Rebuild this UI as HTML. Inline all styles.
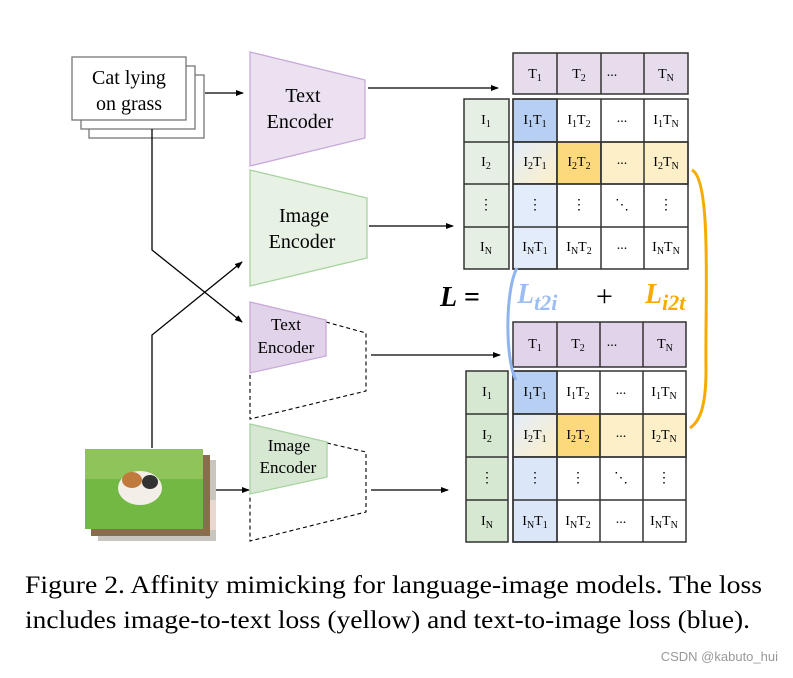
<!DOCTYPE html><html><head><style>body{margin:0;background:#fff}</style></head><body>
<svg width="793" height="673" xmlns="http://www.w3.org/2000/svg" font-family="Liberation Serif, serif">
<defs><marker id="a" markerWidth="8" markerHeight="8" refX="7" refY="4" orient="auto" markerUnits="userSpaceOnUse"><path d="M0,1 L8,4 L0,7z" fill="#000"/></marker>
<linearGradient id="g" x1="0" y1="0" x2="1" y2="1"><stop offset="0" stop-color="#e2ecfa"/><stop offset="1" stop-color="#fdf0c8"/></linearGradient></defs>
<rect x="89" y="75" width="115" height="63" fill="#fff" stroke="#777" stroke-width="1.3"/>
<rect x="81" y="66" width="114" height="63" fill="#fff" stroke="#777" stroke-width="1.3"/>
<rect x="72" y="57" width="114" height="63" fill="#fff" stroke="#777" stroke-width="1.3"/>
<text x="129" y="84" font-size="20" text-anchor="middle">Cat lying</text>
<text x="129" y="110" font-size="20" text-anchor="middle">on grass</text>
<g stroke="#000" stroke-width="1.3" fill="none" marker-end="url(#a)">
<line x1="205" y1="93" x2="243" y2="93"/>
<line x1="368" y1="88" x2="498" y2="88"/>
<line x1="369" y1="226" x2="453" y2="226"/>
<line x1="371" y1="355" x2="500" y2="355"/>
<line x1="371" y1="490" x2="448" y2="490"/>
<line x1="216" y1="490" x2="249" y2="490"/>
<polyline points="152,129 152,250 242,322"/>
<polyline points="152,448 152,335 242,262"/>
</g>
<polygon points="250,52 365,80 365,138 250,166" fill="#ebe1f1" stroke="#c9a9d9" stroke-width="1.3"/>
<text x="303" y="102" font-size="20" text-anchor="middle">Text</text>
<text x="300" y="128" font-size="20" text-anchor="middle">Encoder</text>
<polygon points="250,170 367,198 367,258 250,286" fill="#e7f1e4" stroke="#a9d3a1" stroke-width="1.3"/>
<text x="304" y="222" font-size="20" text-anchor="middle">Image</text>
<text x="302" y="248" font-size="20" text-anchor="middle">Encoder</text>
<g fill="none" stroke="#000" stroke-width="1.1" stroke-dasharray="4,3">
<polyline points="326,322 366,333 366,391 250,419 250,373"/>
<polyline points="327,443 366,452 366,512 250,541 250,494"/>
</g>
<polygon points="250,302 326,320 326,356 250,373" fill="#e0d3ea" stroke="#c9a9d9" stroke-width="1.3"/>
<text x="286" y="330" font-size="17" text-anchor="middle">Text</text>
<text x="286" y="353" font-size="17" text-anchor="middle">Encoder</text>
<polygon points="250,424 327,442 327,477 250,494" fill="#d6e8d2" stroke="#a9d3a1" stroke-width="1.3"/>
<text x="289" y="451" font-size="17" text-anchor="middle">Image</text>
<text x="288" y="473" font-size="17" text-anchor="middle">Encoder</text>
<rect x="98" y="460" width="118" height="81" fill="#c9c6c0"/>
<rect x="98" y="500" width="118" height="30" fill="#e8d8cf"/>
<rect x="91" y="455" width="119" height="81" fill="#8a6d4d"/>
<rect x="85" y="449" width="118" height="80" fill="#72b842"/>
<rect x="85" y="449" width="118" height="30" fill="#8ec45a"/>
<ellipse cx="140" cy="488" rx="22" ry="17" fill="#f3efe8"/>
<ellipse cx="132" cy="480" rx="10" ry="8" fill="#c07a3c"/>
<ellipse cx="150" cy="482" rx="8" ry="7" fill="#333"/>
<g stroke="#333" stroke-width="1.5">
<rect x="513" y="53" width="175" height="41" fill="#e6dcec"/>
<rect x="464" y="99" width="45" height="170" fill="#e6efe3"/>
<rect x="513" y="99" width="44" height="43" fill="#b6cff3"/>
<rect x="513" y="142" width="44" height="42" fill="url(#g)"/>
<rect x="513" y="184" width="44" height="85" fill="#e2ecfa"/>
<rect x="557" y="142" width="44" height="42" fill="#fcd97c"/>
<rect x="601" y="142" width="87" height="42" fill="#fdf0c8"/>
<rect x="513" y="99" width="175" height="170" fill="none"/>
<path d="M557,53V94M601,53V94M644,53V94M557,99V269M601,99V269M644,99V269M513,142H688M513,184H688M513,227H688M464,142H509M464,184H509M464,227H509" fill="none"/>
<rect x="513" y="322" width="173" height="45" fill="#e0d3ea"/>
<rect x="466" y="371" width="42" height="171" fill="#d6e7d2"/>
<rect x="513" y="371" width="44" height="43" fill="#b6cff3"/>
<rect x="513" y="414" width="44" height="43" fill="url(#g)"/>
<rect x="513" y="457" width="44" height="85" fill="#dbe7f9"/>
<rect x="557" y="414" width="43" height="43" fill="#fcd97c"/>
<rect x="600" y="414" width="86" height="43" fill="#fdf0c8"/>
<rect x="513" y="371" width="173" height="171" fill="none"/>
<path d="M557,322V367M600,322V367M643,322V367M557,371V542M600,371V542M643,371V542M513,414H686M513,457H686M513,500H686M466,414H508M466,457H508M466,500H508" fill="none"/>
</g>
<g font-size="14" text-anchor="middle">
<text x="535" y="78">T<tspan font-size="10" dy="3">1</tspan></text><text x="579" y="78">T<tspan font-size="10" dy="3">2</tspan></text><text x="612" y="76">...</text><text x="666" y="78">T<tspan font-size="10" dy="3">N</tspan></text>
<text x="486" y="124">I<tspan font-size="10" dy="3">1</tspan></text><text x="486" y="166">I<tspan font-size="10" dy="3">2</tspan></text><text x="486" y="209">⋮</text><text x="486" y="251">I<tspan font-size="10" dy="3">N</tspan></text>
<text x="535" y="124">I<tspan font-size="10" dy="3">1</tspan><tspan dy="-3">T</tspan><tspan font-size="10" dy="3">1</tspan></text>
<text x="579" y="124">I<tspan font-size="10" dy="3">1</tspan><tspan dy="-3">T</tspan><tspan font-size="10" dy="3">2</tspan></text>
<text x="622" y="122">...</text>
<text x="666" y="124">I<tspan font-size="10" dy="3">1</tspan><tspan dy="-3">T</tspan><tspan font-size="10" dy="3">N</tspan></text>
<text x="535" y="166">I<tspan font-size="10" dy="3">2</tspan><tspan dy="-3">T</tspan><tspan font-size="10" dy="3">1</tspan></text>
<text x="579" y="166">I<tspan font-size="10" dy="3">2</tspan><tspan dy="-3">T</tspan><tspan font-size="10" dy="3">2</tspan></text>
<text x="622" y="164">...</text>
<text x="666" y="166">I<tspan font-size="10" dy="3">2</tspan><tspan dy="-3">T</tspan><tspan font-size="10" dy="3">N</tspan></text>
<text x="535" y="209">⋮</text><text x="579" y="209">⋮</text><text x="622" y="209">⋱</text><text x="666" y="209">⋮</text>
<text x="535" y="251">I<tspan font-size="10" dy="3">N</tspan><tspan dy="-3">T</tspan><tspan font-size="10" dy="3">1</tspan></text>
<text x="579" y="251">I<tspan font-size="10" dy="3">N</tspan><tspan dy="-3">T</tspan><tspan font-size="10" dy="3">2</tspan></text>
<text x="622" y="249">...</text>
<text x="666" y="251">I<tspan font-size="10" dy="3">N</tspan><tspan dy="-3">T</tspan><tspan font-size="10" dy="3">N</tspan></text>
<text x="535" y="348">T<tspan font-size="10" dy="3">1</tspan></text><text x="578" y="348">T<tspan font-size="10" dy="3">2</tspan></text><text x="612" y="346">...</text><text x="665" y="348">T<tspan font-size="10" dy="3">N</tspan></text>
<text x="487" y="396">I<tspan font-size="10" dy="3">1</tspan></text><text x="487" y="439">I<tspan font-size="10" dy="3">2</tspan></text><text x="487" y="482">⋮</text><text x="487" y="525">I<tspan font-size="10" dy="3">N</tspan></text>
<text x="535" y="396">I<tspan font-size="10" dy="3">1</tspan><tspan dy="-3">T</tspan><tspan font-size="10" dy="3">1</tspan></text>
<text x="578" y="396">I<tspan font-size="10" dy="3">1</tspan><tspan dy="-3">T</tspan><tspan font-size="10" dy="3">2</tspan></text>
<text x="621" y="394">...</text>
<text x="664" y="396">I<tspan font-size="10" dy="3">1</tspan><tspan dy="-3">T</tspan><tspan font-size="10" dy="3">N</tspan></text>
<text x="535" y="439">I<tspan font-size="10" dy="3">2</tspan><tspan dy="-3">T</tspan><tspan font-size="10" dy="3">1</tspan></text>
<text x="578" y="439">I<tspan font-size="10" dy="3">2</tspan><tspan dy="-3">T</tspan><tspan font-size="10" dy="3">2</tspan></text>
<text x="621" y="437">...</text>
<text x="664" y="439">I<tspan font-size="10" dy="3">2</tspan><tspan dy="-3">T</tspan><tspan font-size="10" dy="3">N</tspan></text>
<text x="535" y="482">⋮</text><text x="578" y="482">⋮</text><text x="621" y="482">⋱</text><text x="664" y="482">⋮</text>
<text x="535" y="525">I<tspan font-size="10" dy="3">N</tspan><tspan dy="-3">T</tspan><tspan font-size="10" dy="3">1</tspan></text>
<text x="578" y="525">I<tspan font-size="10" dy="3">N</tspan><tspan dy="-3">T</tspan><tspan font-size="10" dy="3">2</tspan></text>
<text x="621" y="523">...</text>
<text x="664" y="525">I<tspan font-size="10" dy="3">N</tspan><tspan dy="-3">T</tspan><tspan font-size="10" dy="3">N</tspan></text>
</g>
<path d="M517,268 C505,290 505,360 516,380" fill="none" stroke="#8fb4f0" stroke-width="3"/>
<path d="M692,170 C712,180 705,300 706,370 C706,400 702,420 690,428" fill="none" stroke="#f7ab00" stroke-width="3"/>
<text x="440" y="306" font-size="28" font-weight="bold" font-style="italic">L</text>
<text x="464" y="306" font-size="28" font-weight="bold">=</text>
<text x="517" y="303" font-size="28" font-weight="bold" font-style="italic" fill="#9dbef2">L<tspan font-size="22" dy="7">t2i</tspan></text>
<text x="596" y="306" font-size="30">+</text>
<text x="645" y="303" font-size="28" font-weight="bold" font-style="italic" fill="#f7ab00">L<tspan font-size="22" dy="7">i2t</tspan></text>
<text x="25" y="593" font-size="25" textLength="737" lengthAdjust="spacingAndGlyphs">Figure 2. Affinity mimicking for language-image models. The loss</text>
<text x="25" y="628" font-size="25" textLength="725" lengthAdjust="spacingAndGlyphs">includes image-to-text loss (yellow) and text-to-image loss (blue).</text>
<text x="778" y="661" font-size="13" fill="#999" text-anchor="end" font-family="Liberation Sans, sans-serif">CSDN @kabuto_hui</text>
</svg></body></html>
